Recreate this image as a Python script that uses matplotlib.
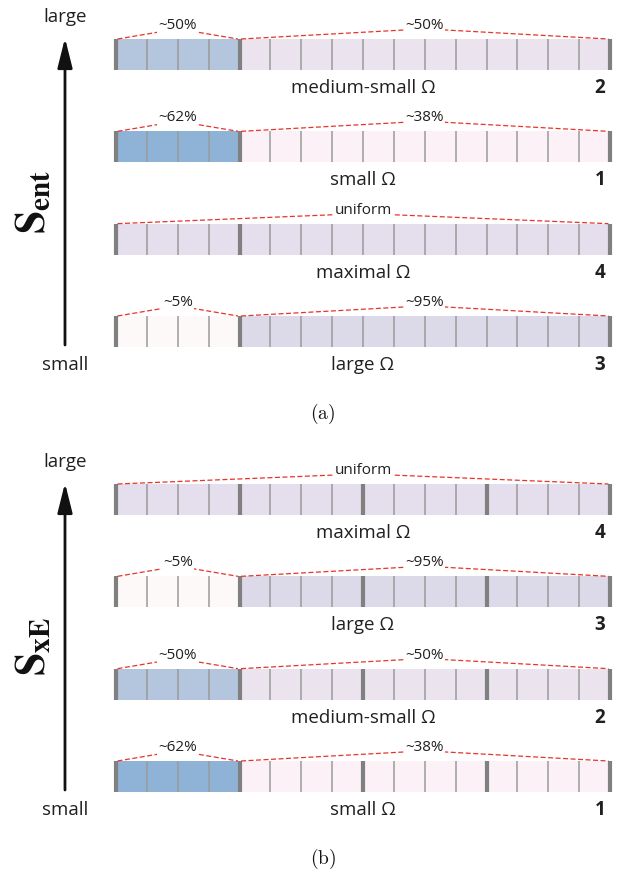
import matplotlib.pyplot as plt
from matplotlib.patches import Rectangle

plt.rcParams['font.family'] = ['Open Sans', 'DejaVu Sans']
plt.rcParams['mathtext.fontset'] = 'stix'

# states: number, name, share of the first 4 cells / the other 12 cells
state_ids = [1, 2, 3, 4]
state_names = ['small Ω', 'medium-small Ω', 'large Ω', 'maximal Ω']
left_share = ['~62%', '~50%', '~5%', None]
right_share = ['~38%', '~50%', '~95%', None]
left_colors = ['#8fb3d7', '#b4c5de', '#fdf9f9', '#e5deec']
right_colors = ['#fbf1f6', '#ebe3ee', '#dcd9e9', '#e5deec']

# order of the states top to bottom in each panel
order_a = [2, 1, 4, 3]
order_b = [4, 3, 2, 1]
majors_a = [0, 4, 16]
majors_b = [0, 4, 8, 12, 16]

n_cells = 16
n_left = 4

text_col = '#231f20'
red = '#e8332a'
h = 0.336  # bar height in row units


def draw_panel(ax, order, majors, ylabel, caption):
    for row, sid in enumerate(order):
        i = state_ids.index(sid)
        top = row
        # cells
        ax.add_patch(Rectangle((0, top), n_left, h, color=left_colors[i], lw=0))
        ax.add_patch(Rectangle((n_left, top), n_cells - n_left, h, color=right_colors[i], lw=0))
        for c in range(n_cells + 1):
            if c in majors:
                ax.plot([c, c], [top, top + h], color='#808080', lw=3.0, solid_capstyle='butt', zorder=3)
            else:
                ax.plot([c, c], [top, top + h], color='#9a9a9a', lw=1.1, solid_capstyle='butt', zorder=2)
        # share annotations
        if left_share[i] is None:
            spans = [(0, n_cells, 'uniform')]
        else:
            spans = [(0, n_left, left_share[i]), (n_left, n_cells, right_share[i])]
        for x0, x1, lab in spans:
            xc = (x0 + x1) / 2
            ax.plot([x0 + 0.05, xc, x1 - 0.05], [top, top - 0.11, top], color=red, lw=0.9,
                    dashes=(4, 2), zorder=4)
            ax.text(xc, top - 0.145, lab, ha='center', va='center', fontsize=11, color=text_col,
                    zorder=5, bbox=dict(facecolor='white', edgecolor='none', pad=0.8))
        ax.text(n_cells / 2, top + h + 0.195, state_names[i], ha='center', va='center',
                fontsize=13.5, color=text_col)
        ax.text(15.68, top + h + 0.195, str(sid), ha='center', va='center',
                fontsize=13.5, fontweight='bold', color=text_col)

    # vertical arrow
    ax.annotate('', xy=(-1.652, -0.011), xytext=(-1.652, 3.314),
                arrowprops=dict(arrowstyle='-|>,head_length=0.6,head_width=0.15',
                                mutation_scale=30, lw=2, color='#111111', shrinkA=0, shrinkB=0))
    ax.text(-1.652, -0.24, 'large', ha='center', va='center', fontsize=13.5, color=text_col)
    ax.text(-1.652, 3.53, 'small', ha='center', va='center', fontsize=13.5, color=text_col)
    ax.text(-2.656, 1.76, ylabel, ha='center', va='center', rotation=90, fontsize=30, color='#111111')
    ax.text(6.70, 4.06, caption, ha='center', va='center', fontsize=14, color='#111111',
            math_fontfamily='cm')


fig = plt.figure(figsize=(6.18, 8.75), dpi=100)
ax_a = fig.add_axes([0, 0.5, 1, 0.5])
ax_b = fig.add_axes([0, 0, 1, 0.5])

xlim = (-116 / 30.875, 16 + 8 / 30.875)
for ax in (ax_a, ax_b):
    ax.set_xlim(*xlim)
    ax.axis('off')
ax_a.set_ylim((437.5 - 39) / 92.33, -39 / 92.33)
ax_b.set_ylim((437.5 - 46.5) / 92.33, -46.5 / 92.33)

draw_panel(ax_a, order_a, majors_a, r'$\mathbf{S}_{\mathbf{ent}}$', r'$\mathrm{(a)}$')
draw_panel(ax_b, order_b, majors_b, r'$\mathbf{S}_{\mathbf{xE}}$', r'$\mathrm{(b)}$')

fig.savefig('out.png', dpi=100)
